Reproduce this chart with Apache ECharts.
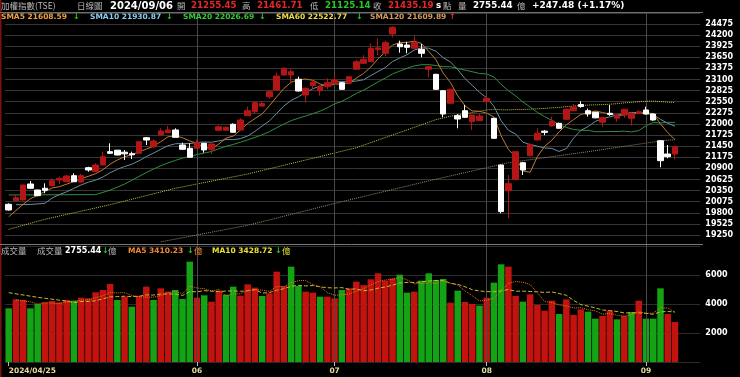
<!DOCTYPE html>
<html><head><meta charset="utf-8">
<script src="https://cdn.jsdelivr.net/npm/echarts/dist/echarts.min.js"></script>
<style>html,body{margin:0;padding:0;background:#000;overflow:hidden}#c{width:740px;height:377px}</style>
</head><body><div id="c"></div>
<script>
// ---------------- data ----------------
const dates = [
 '04/25','04/26','04/29','04/30',
 '05/02','05/03','05/06','05/07','05/08','05/09','05/10','05/13','05/14','05/15','05/16','05/17','05/20','05/21','05/22','05/23','05/24','05/27','05/28','05/29','05/30','05/31',
 '06/03','06/04','06/05','06/06','06/07','06/11','06/12','06/13','06/14','06/17','06/18','06/19','06/20','06/21','06/24','06/25','06/26','06/27','06/28',
 '07/01','07/02','07/03','07/04','07/05','07/08','07/09','07/10','07/11','07/12','07/15','07/16','07/17','07/18','07/19','07/22','07/23','07/26','07/29','07/30','07/31',
 '08/01','08/02','08/05','08/06','08/07','08/08','08/09','08/12','08/13','08/14','08/15','08/16','08/19','08/20','08/21','08/22','08/23','08/26','08/27','08/28','08/29','08/30',
 '09/02','09/03','09/04','09/05','09/06'
];
const opens = [
 20010,20099,20116,20512,20364,20406,20470,20611,20569,20718,
 20560,20916,20817,20982,21312,21350,21300,21262,21272,21658,
 21435,21725,21782,21849,21478,21396,21396,21520,21371,21840,
 21843,21990,21849,22203,22302,22440,22673,22839,23210,23210,
 23104,22715,22945,22821,22920,23005,23019,23005,23351,23500,
 23539,23840,23747,24225,23977,23952,23871,23846,23351,23227,
 22821,22510,22203,22326,22054,22079,22549,22138,20982,20346,
 20629,21039,21213,21601,21820,21950,22014,22114,22326,22480,
 22326,22287,22040,22262,22140,22220,22138,22262,22344,22245,
 21584,21255,21255.45
];
const closes = [
 19869,20173,20488,20406,20223,20356,20594,20653,20710,20569,
 20718,20859,20982,21188,21272,21230,21258,21235,21559,21601,
 21577,21824,21849,21668,21371,21174,21536,21356,21502,21931,
 21916,21792,22096,22326,22525,22505,22797,23185,23376,23292,
 22814,22881,23029,22920,23019,23086,22856,23168,23539,23599,
 23871,23880,24010,24391,23910,23895,24010,23747,23416,22856,
 22245,22856,22121,22163,22220,22195,22633,21643,19830,20520,
 21312,20859,21495,21770,21790,22070,21891,22361,22420,22430,
 22245,22150,22160,22235,22215,22361,22262,22302,22245,22096,
 21089,21187.71,21435.19
];
const lows = [
 19851,20090,20110,20395,20210,20282,20460,20512,20560,20560,
 20550,20817,20810,20975,21255,21220,21106,21130,21265,21478,
 21411,21715,21775,21660,21365,21165,21390,21287,21255,21835,
 21835,21785,21840,22195,22262,22435,22620,22830,23200,23030,
 22800,22524,22880,22700,22860,22990,22840,22990,23340,23490,
 23530,23705,23680,24140,23762,23747,23860,23648,23153,22840,
 22163,22500,21891,22150,21849,22070,22520,21630,19787,19663,
 20600,20735,21200,21590,21720,21940,21880,22100,22310,22400,
 22180,22140,21931,22200,22050,22150,21960,22240,22230,22080,
 20926,21150,21125.14
];
const highs = [
 20035,20240,20495,20586,20370,20530,20653,20693,20735,20777,
 20760,20940,21024,21312,21520,21354,21354,21312,21577,21675,
 21619,21891,21948,21891,21535,21520,21610,21530,21510,21960,
 21940,22014,22138,22425,22540,22560,22820,23267,23400,23351,
 23170,22900,23100,22960,23130,23190,23040,23190,23580,23700,
 23989,24118,24060,24416,24059,24034,24175,23977,23440,23240,
 22830,22870,22240,22468,22230,22260,22660,22150,20990,20735,
 21320,21060,21510,21891,21850,22180,22030,22380,22492,22560,
 22380,22300,22175,22468,22230,22375,22275,22340,22425,22260,
 21600,21478,21461.71
];
// 成交量 (億)
const volumes = [
 3701,4322,4276,3701,4000,4115,4207,4115,4276,4230,
 4437,4391,4805,4966,5380,4276,4506,3816,4552,5196,
 4276,5081,4851,4966,4345,6920,4437,4598,4161,4920,
 4644,5196,4575,5357,5127,4552,4736,6230,5242,6575,
 5242,4851,4782,4506,4506,4391,4966,5081,5541,5300,
 5702,6115,5610,5770,6023,4782,4851,5610,6115,5655,
 5725,4092,4920,4138,4000,3885,4437,5472,6736,6575,
 4552,4161,4667,3931,3540,4230,3310,4322,3241,3632,
 3471,2988,3172,3540,2942,3172,3448,4230,2988,2988,
 5081,3310,2755.44
];
const sma5Lead   = [[0,19700],[2,20010],[3,20150]];
const sma10Lead  = [[1,20000],[3,20005],[5,20035],[6,20166],[7,20250],[8,20320]];
const sma20Lead  = [[0,20240],[12,20250],[14,20360],[16,20510],[18,20700]];
const sma60Lead  = [[0,19390],[5,19639],[14,20000],[23,20406],[33,20760],[48,21410],[58,22040]];
const sma120Read = [[21,19080],[33,19490],[46,20075],[58,20590],[69,21039],[80,21312],[90,21577],[92,21610]];
const volMa5Lead  = [[1,4280],[3,4150]];
const volMa10Lead = [[0,4780],[4,4460],[8,4200]];
const priceTicks = {min:18975, max:24750, step:275};
const volTicks = {min:0, max:8000, step:2000};
const firstDateLabel = '2024/04/25';

// ---------------- helpers ----------------
function fromPairs(pairs, len){ const a = new Array(len).fill(null); pairs.forEach(p => { a[p[0]] = p[1]; }); return a; }
function movingAvg(vals, n, leadPairs){
  const lead = fromPairs(leadPairs, vals.length);
  return vals.map((v,i) => {
    if (i < n-1) return lead[i];
    let s = 0; for (let k=i-n+1;k<=i;k++) s += vals[k];
    return +(s/n).toFixed(2);
  });
}
const N = dates.length;
const cats = dates.concat(['', '', '']);
// month boundaries (a month change too close to the first label is not marked)
const monthStarts = dates.map((d,i) => (i>0 && d.slice(0,2)!==dates[i-1].slice(0,2) && i>10) ? i : -1).filter(i => i>=0);
const labelIdx = [0].concat(monthStarts);
const monthLines = monthStarts.map(i => ({xAxis: dates[i]}));
const UP = '#b41616', DOWN = '#ffffff', VUP = '#c2130f', VDN = '#14a314';
const candleData = dates.map((d,i) => [opens[i], closes[i], lows[i], highs[i]]);
const volData = volumes.map((v,i) => {
  const up = i===0 ? closes[i] >= opens[i] : closes[i] >= closes[i-1];
  return {value: v, itemStyle: {color: up ? VUP : VDN}};
});

const L = 5.09, S = 7.242, W = S * cats.length;
const mainTop = 12.78, mainH = 233.33;

const chart = echarts.init(document.getElementById('c'), null, {renderer:'canvas'});
const F = '"DejaVu Sans", Verdana, sans-serif';
const CJK = '"Noto Sans CJK TC", sans-serif';
function txt(text, x, y, fill, size, bold, fam){
  return {type:'text', silent:true, z:100, style:{text, x, y, fill, font:(bold?'bold ':'')+size+'px '+(fam||F), verticalAlign:'middle', align:'left'}};
}
const GRAY = '#b8b8b8';
const graphics = [
  {type:'rect', silent:true, z:90, shape:{x:0,y:0,width:1.5,height:377}, style:{fill:'#7a1212'}},
  {type:'line', silent:true, z:90, shape:{x1:0,y1:12.5,x2:703,y2:12.5}, style:{stroke:'#6e6e6e', lineWidth:1}},
  {type:'line', silent:true, z:90, shape:{x1:0,y1:244.5,x2:703,y2:244.5}, style:{stroke:'#7a7a7a', lineWidth:1}},
  txt('加權指數(TSE)', 1, 6, GRAY, 8.5, false, CJK),
  txt('日線圖', 77, 6, GRAY, 8.5, false, CJK),
  txt('2024/09/06', 110, 6, '#ffffff', 10, true),
  txt('開', 177, 6, GRAY, 8.5, false, CJK),
  txt('21255.45', 191, 6, '#e8262a', 8.7, true),
  txt('高', 242, 6, GRAY, 8.5, false, CJK),
  txt('21461.71', 257, 6, '#e8262a', 8.7, true),
  txt('低', 310, 6, GRAY, 8.5, false, CJK),
  txt('21125.14', 325, 6, '#22cc22', 8.7, true),
  txt('收', 373, 6, GRAY, 8.5, false, CJK),
  txt('21435.19', 388, 6, '#e8262a', 8.7, true),
  txt('s', 436, 6, '#ffffff', 8.7, true),
  txt('點', 443, 6, GRAY, 8.5, false, CJK),
  txt('量', 458, 6, GRAY, 8.5, false, CJK),
  txt('2755.44', 473, 6, '#ffffff', 8.7, true),
  txt('億', 517, 6, GRAY, 8.5, false, CJK),
  txt('+247.48 (+1.17%)', 532, 6, '#ffffff', 9, true),

  txt('SMA5 21608.59', 1, 17, '#f0a040', 7.5, true),
  txt('↓', 73, 17, '#22cc22', 8, true),
  txt('SMA10 21930.87', 90, 17, '#88ccee', 7.5, true),
  txt('↓', 166, 17, '#22cc22', 8, true),
  txt('SMA20 22026.69', 183, 17, '#33cc33', 7.5, true),
  txt('↓', 259, 17, '#22cc22', 8, true),
  txt('SMA60 22522.77', 276, 17, '#eedd44', 7.5, true),
  txt('↓', 356, 17, '#22cc22', 8, true),
  txt('SMA120 21609.89', 370, 17, '#d49a5a', 7.5, true),
  txt('↑', 449, 17, '#e8262a', 8, true),

  txt('成交量', 1, 251, GRAY, 8.5, false, CJK),
  txt('成交量', 37, 251, GRAY, 8.5, false, CJK),
  txt('2755.44', 65, 251, '#ffffff', 8, true),
  txt('↓', 102, 251, '#22cc22', 8, true),
  txt('億', 108, 251, GRAY, 8.5, false, CJK),
  txt('MA5 3410.23', 128, 251, '#f08830', 7.5, true),
  txt('↓', 187, 251, '#22cc22', 8, true),
  txt('億', 194, 251, '#f08830', 8.5, false, CJK),
  txt('MA10 3428.72', 212, 251, '#e8e030', 7.5, true),
  txt('↓', 275, 251, '#22cc22', 8, true),
  txt('億', 282, 251, '#e8e030', 8.5, false, CJK)
];

function lineSeries(name, data, color, type, xi, z){
  return {name, type:'line', data, xAxisIndex:xi, yAxisIndex:xi, showSymbol:false, symbol:'none', connectNulls:true,
    silent:true, z: z||3, lineStyle:{color, width:1, type: type||'solid'}, animation:false};
}
const plain = v => String(v);

const option = {
  backgroundColor:'#000',
  animation:false,
  graphic: graphics,
  grid:[
    {left:L, top:mainTop, width:W, height:mainH, containLabel:false, outerBoundsMode:'none'},
    {left:L, top:246, width:W, height:116, containLabel:false, outerBoundsMode:'none'}
  ],
  xAxis:[
    {type:'category', gridIndex:0, data:cats, boundaryGap:true, axisLine:{show:false}, axisTick:{show:false}, axisLabel:{show:false}, splitLine:{show:false}},
    {type:'category', gridIndex:1, data:cats, boundaryGap:true, axisLine:{show:false},
     axisTick:{show:true, alignWithLabel:true, length:4, interval:(i)=>labelIdx.indexOf(i)>=0, lineStyle:{color:'#bbbbbb'}},
     axisLabel:{show:true, interval:(i)=>labelIdx.indexOf(i)>=0, margin:5, color:'#eadca0', fontSize:7.5, fontWeight:'bold', fontFamily:F,
       alignMinLabel:'left', hideOverlap:false,
       formatter:(v,i)=> v===dates[0] ? firstDateLabel : v.slice(0,2)},
     splitLine:{show:false}}
  ],
  yAxis:[
    {type:'value', gridIndex:0, position:'right', min:priceTicks.min, max:priceTicks.max, interval:priceTicks.step,
     axisLine:{show:false}, axisTick:{show:false},
     axisLabel:{color:'#ffffff', fontSize:8, fontWeight:'bold', fontFamily:F, margin:5, showMinLabel:false, showMaxLabel:false, formatter:plain},
     splitLine:{show:true, lineStyle:{color:'#363636', width:1}}},
    {type:'value', gridIndex:1, position:'right', min:volTicks.min, max:volTicks.max, interval:volTicks.step,
     axisLine:{show:false}, axisTick:{show:false},
     axisLabel:{color:'#ffffff', fontSize:8, fontWeight:'bold', fontFamily:F, margin:5, showMinLabel:false, showMaxLabel:false, formatter:plain},
     splitLine:{show:true, lineStyle:{color:'#2c2c2c', width:1}}}
  ],
  series:[
    lineSeries('SMA120', fromPairs(sma120Read, N), '#9a8a6a', 'dotted', 0, 2),
    lineSeries('SMA60', movingAvg(closes, 60, sma60Lead), '#c8c038', 'dotted', 0, 2),
    lineSeries('SMA20', movingAvg(closes, 20, sma20Lead), '#2f8f3f', 'solid', 0, 3),
    lineSeries('SMA10', movingAvg(closes, 10, sma10Lead), '#6a8fa0', 'solid', 0, 3),
    lineSeries('SMA5', movingAvg(closes, 5, sma5Lead), '#c27a30', 'solid', 0, 3),
    {name:'K', type:'candlestick', xAxisIndex:0, yAxisIndex:0, data:candleData, barWidth:6, z:5, silent:true,
     itemStyle:{color:UP, color0:DOWN, borderColor:UP, borderColor0:DOWN, borderWidth:1},
     markLine:{silent:true, symbol:['none','none'], label:{show:false}, animation:false,
       lineStyle:{color:'#4a4a4a', width:1, type:'solid'}, data:monthLines}},
    {name:'VOL', type:'bar', xAxisIndex:1, yAxisIndex:1, data:volData, barWidth:6.5, z:3, silent:true,
     markLine:{silent:true, symbol:['none','none'], label:{show:false}, animation:false,
       lineStyle:{color:'#4a4a4a', width:1, type:'solid'}, data:monthLines}},
    lineSeries('VMA10', movingAvg(volumes, 10, volMa10Lead), '#c8b830', 'dashed', 1, 6),
    lineSeries('VMA5', movingAvg(volumes, 5, volMa5Lead), '#e07a20', 'dotted', 1, 6)
  ]
};
chart.setOption(option);
</script></body></html>
